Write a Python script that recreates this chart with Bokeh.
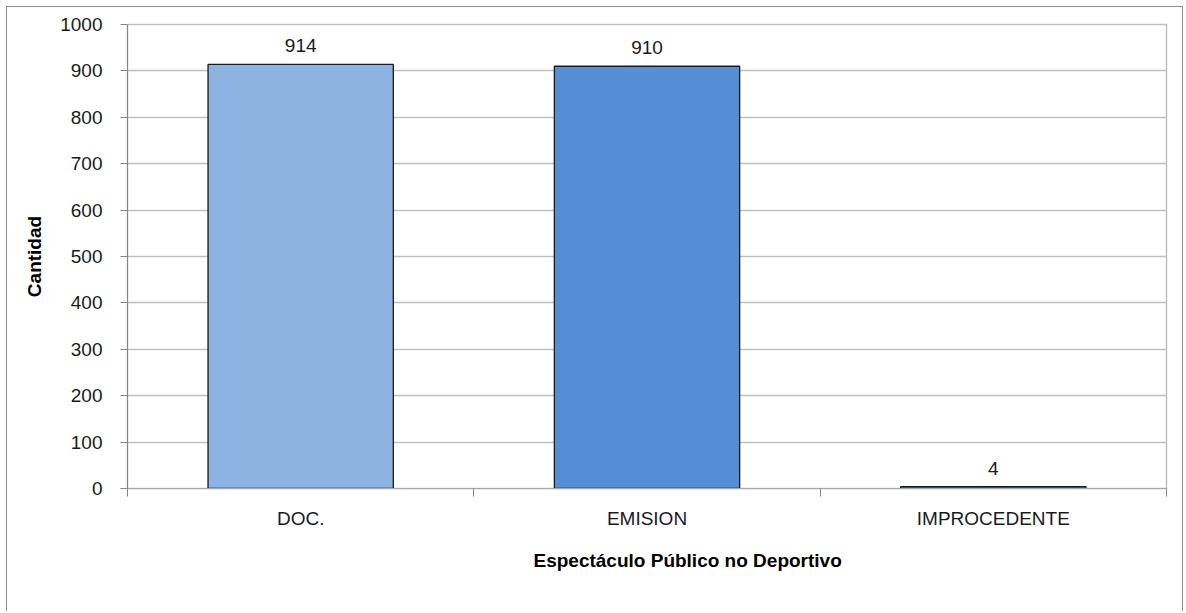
from bokeh.plotting import figure
from bokeh.models import Range1d, FixedTicker, Title
from bokeh.core.properties import value
from bokeh.embed import file_html
from bokeh.resources import INLINE
import numpy as np

categories = ["DOC.", "EMISION", "IMPROCEDENTE"]
counts = [914, 910, 4]
bar_colors = ["#8DB3E2", "#558ED5", "#4F81BD"]
y_ticks = list(range(0, 1001, 100))

FONT = "Liberation Sans Narrow, Liberation Sans, Arial Narrow, sans-serif"

xs = np.arange(len(categories)) + 0.5

p = figure(width=1177, height=605, output_backend="svg", toolbar_location=None,
           x_range=Range1d(0, len(categories)), y_range=Range1d(0, 1000),
           min_border_left=120, min_border_right=18, min_border_top=17, min_border_bottom=124,
           styles={"border-top": "1px solid #8c8c8c", "border-left": "1px solid #8c8c8c",
                   "border-right": "1px solid #8c8c8c", "box-sizing": "border-box",
                   "margin-top": "6px", "margin-left": "6px"})

p.vbar(x=xs, top=counts, width=0.535, fill_color=bar_colors,
       line_color="#1a1a1a", line_width=1.3)

p.text(x=xs, y=counts, text=[str(c) for c in counts], text_align="center",
       text_baseline="bottom", y_offset=-12, text_font=value(FONT),
       text_font_size="19px", text_color="#1a1a1a")

# y axis
p.yaxis.ticker = FixedTicker(ticks=y_ticks)
p.yaxis.axis_line_color = "#868686"
p.yaxis.major_tick_line_color = "#868686"
p.yaxis.major_tick_out = 7
p.yaxis.major_tick_in = 0
p.yaxis.minor_tick_line_color = None
p.yaxis.major_label_standoff = 18
p.yaxis.major_label_text_font = FONT
p.yaxis.major_label_text_font_size = "19px"
p.yaxis.major_label_text_color = "#1a1a1a"
p.yaxis.axis_label = "Cantidad"
p.yaxis.axis_label_text_font = FONT
p.yaxis.axis_label_text_font_size = "19px"
p.yaxis.axis_label_text_font_style = "bold"
p.yaxis.axis_label_text_color = "#000000"
p.yaxis.axis_label_standoff = 12

# x axis
p.xaxis.ticker = FixedTicker(ticks=list(xs), minor_ticks=list(range(len(categories) + 1)))
p.xaxis.major_label_overrides = {float(x): c for x, c in zip(xs, categories)}
p.xaxis.major_tick_line_color = None
p.xaxis.major_tick_out = 0
p.xaxis.major_tick_in = 0
p.xaxis.minor_tick_line_color = "#868686"
p.xaxis.minor_tick_out = 8
p.xaxis.minor_tick_in = 0
p.xaxis.axis_line_color = "#A6A6A6"
p.xaxis.major_label_standoff = 11
p.xaxis.major_label_text_font = FONT
p.xaxis.major_label_text_font_size = "19px"
p.xaxis.major_label_text_color = "#1a1a1a"

p.xgrid.grid_line_color = None
p.ygrid.ticker = FixedTicker(ticks=y_ticks)
p.ygrid.grid_line_color = "#BFBFBF"
p.ygrid.grid_line_width = 1.5
p.outline_line_color = "#BFBFBF"
p.outline_line_width = 1.5

p.add_layout(Title(text="Espectáculo Público no Deportivo", align="left", offset=406,
                   standoff=33, text_font=FONT, text_font_size="19px",
                   text_font_style="bold", text_color="#000000"), "below")

open("out.html", "w").write(file_html(p, INLINE))
